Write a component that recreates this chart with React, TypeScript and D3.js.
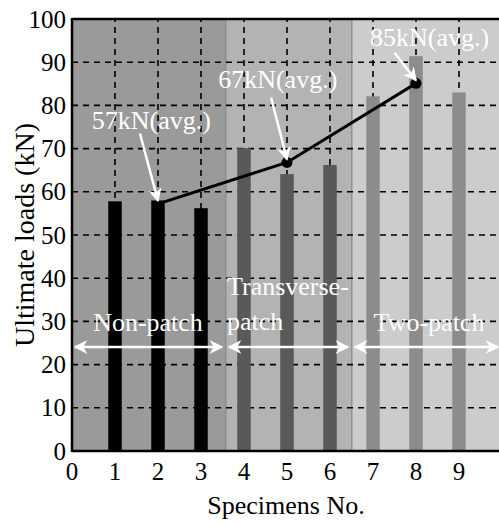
import React from "react";
import * as d3 from "d3";

// specimen loads (kN)
const specimens = [1, 2, 3, 4, 5, 6, 7, 8, 9];
const loads = [57.8, 58, 56.2, 70.1, 64.1, 66.2, 82.1, 91.4, 83];
const groupOf = [0, 0, 0, 1, 1, 1, 2, 2, 2];
const groupNames = ["Non-patch", "Transverse-patch", "Two-patch"];
const groupBounds = [0, 3.58, 6.51, 10];
const avgX = [2, 5, 8];
const avgY = [57.2, 66.8, 85.1];
const avgLabels = ["57kN(avg.)", "67kN(avg.)", "85kN(avg.)"];
const yTicks = [0, 10, 20, 30, 40, 50, 60, 70, 80, 90, 100];
const xTicks = [0, 1, 2, 3, 4, 5, 6, 7, 8, 9];

const bgColors = ["#9a9a9a", "#b3b3b3", "#cccccc"];
const barColors = ["#000000", "#595959", "#8c8c8c"];

export default function App() {
  const width = 499, height = 524;
  const x = d3.scaleLinear().domain([0, 10]).range([72, 502]);
  const y = d3.scaleLinear().domain([0, 100]).range([451, 19]);
  const barW = 13.5;
  const font = "'Liberation Serif', 'Times New Roman', serif";
  const line = d3.line<number>().x((d, i) => x(avgX[i])).y(d => y(d));

  // label/arrow placement in data units
  const labelPos = [
    { tx: 0.46, ty: 74.6, ax0: 1.58, ay0: 73.5 },
    { tx: 3.4, ty: 84, ax0: 4.63, ay0: 81.8 },
    { tx: 6.93, ty: 93.8, ax0: 7.5, ay0: 92.2 },
  ];

  return (
    <svg width={width} height={height} style={{ display: "block", position: "absolute", left: 0, top: 0 }}>
      <defs>
        <marker id="ah" viewBox="0 0 10 10" refX="9" refY="5" markerWidth="5.5" markerHeight="5.5" orient="auto-start-reverse">
          <path d="M0,0 L10,5 L0,10 L3,5 z" fill="#fff" />
        </marker>
      </defs>
      <rect width={width} height={height} fill="#fff" />
      {groupNames.map((g, i) => (
        <rect key={g} x={x(groupBounds[i])} y={y(100)} width={x(groupBounds[i + 1]) - x(groupBounds[i])}
          height={y(0) - y(100)} fill={bgColors[i]} stroke="#888" strokeWidth={1} />
      ))}
      {yTicks.slice(1, -1).map(t => (
        <line key={"gy" + t} x1={x(0)} x2={x(10)} y1={y(t)} y2={y(t)} stroke="#000" strokeWidth={1.6} strokeDasharray="6,5" />
      ))}
      {xTicks.slice(1).map(t => (
        <line key={"gx" + t} x1={x(t)} x2={x(t)} y1={y(0)} y2={y(100)} stroke="#000" strokeWidth={1.6} strokeDasharray="6,5" />
      ))}
      {specimens.map((s, i) => (
        <rect key={s} x={x(s) - barW / 2} y={y(loads[i])} width={barW} height={y(0) - y(loads[i])} fill={barColors[groupOf[i]]} />
      ))}
      <path d={line(avgY) || ""} fill="none" stroke="#000" strokeWidth={3} />
      {avgX.slice(1).map((a, i) => (
        <circle key={a} cx={x(a)} cy={y(avgY[i + 1])} r={5.5} fill="#000" />
      ))}
      {avgLabels.map((l, i) => (
        <g key={l}>
          <text x={x(labelPos[i].tx)} y={y(labelPos[i].ty)} fill="#fff" fontFamily={font} fontSize={26}>{l}</text>
          <line x1={x(labelPos[i].ax0)} y1={y(labelPos[i].ay0)} x2={x(avgX[i])} y2={y(avgY[i]) - 3}
            stroke="#fff" strokeWidth={2.5} markerEnd="url(#ah)" />
        </g>
      ))}
      {/* group spans */}
      {groupNames.map((g, i) => (
        <line key={"span" + g} x1={x(groupBounds[i]) + 3} x2={x(groupBounds[i + 1]) - 4} y1={347} y2={347}
          stroke="#fff" strokeWidth={2.5} markerStart="url(#ah)" markerEnd="url(#ah)" />
      ))}
      <text x={148} y={331} fill="#fff" fontFamily={font} fontSize={26} textAnchor="middle">Non-patch</text>
      <text x={227} y={295} fill="#fff" fontFamily={font} fontSize={26}>Transverse-</text>
      <text x={227} y={330} fill="#fff" fontFamily={font} fontSize={26}>patch</text>
      <text x={429} y={331} fill="#fff" fontFamily={font} fontSize={26} textAnchor="middle">Two-patch</text>
      {/* axes */}
      <line x1={x(0)} x2={x(10)} y1={y(100)} y2={y(100)} stroke="#000" strokeWidth={2.5} />
      <line x1={x(0)} x2={x(10)} y1={y(0)} y2={y(0)} stroke="#000" strokeWidth={2.5} />
      <line x1={x(0)} x2={x(0)} y1={y(0) + 1} y2={y(100) - 1} stroke="#000" strokeWidth={2.5} />
      {yTicks.map(t => (
        <text key={"yt" + t} x={66} y={y(t) + 8.5} fontFamily={font} fontSize={25} textAnchor="end">{t}</text>
      ))}
      {xTicks.map(t => (
        <text key={"xt" + t} x={x(t)} y={480} fontFamily={font} fontSize={25} textAnchor="middle">{t}</text>
      ))}
      <text x={286} y={514} fontFamily={font} fontSize={26} textAnchor="middle">Specimens No.</text>
      <text transform={`translate(34,${y(50)}) rotate(-90)`} fontFamily={font} fontSize={28} textAnchor="middle">Ultimate loads (kN)</text>
    </svg>
  );
}
